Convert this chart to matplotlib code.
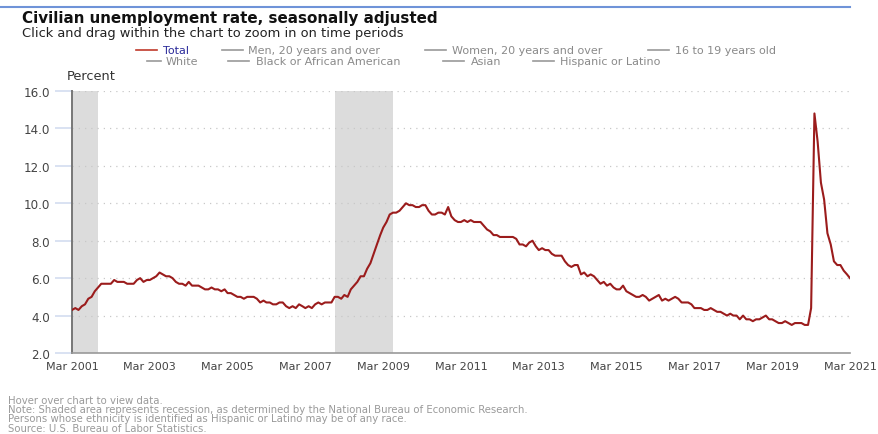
import numpy as np
import pandas as pd
import matplotlib
matplotlib.use("Agg")
import matplotlib.pyplot as plt
from matplotlib.lines import Line2D

# monthly civilian unemployment rate, Mar 2001 - Mar 2021
start = "2001-03-01"
rate = [
    4.3, 4.4, 4.3, 4.5, 4.6, 4.9, 5.0, 5.3, 5.5, 5.7,
    5.7, 5.7, 5.7, 5.9, 5.8, 5.8, 5.8, 5.7, 5.7, 5.7, 5.9, 6.0,
    5.8, 5.9, 5.9, 6.0, 6.1, 6.3, 6.2, 6.1, 6.1, 6.0, 5.8, 5.7,
    5.7, 5.6, 5.8, 5.6, 5.6, 5.6, 5.5, 5.4, 5.4, 5.5, 5.4, 5.4,
    5.3, 5.4, 5.2, 5.2, 5.1, 5.0, 5.0, 4.9, 5.0, 5.0, 5.0, 4.9,
    4.7, 4.8, 4.7, 4.7, 4.6, 4.6, 4.7, 4.7, 4.5, 4.4, 4.5, 4.4,
    4.6, 4.5, 4.4, 4.5, 4.4, 4.6, 4.7, 4.6, 4.7, 4.7, 4.7, 5.0,
    5.0, 4.9, 5.1, 5.0, 5.4, 5.6, 5.8, 6.1, 6.1, 6.5, 6.8, 7.3,
    7.8, 8.3, 8.7, 9.0, 9.4, 9.5, 9.5, 9.6, 9.8, 10.0, 9.9, 9.9,
    9.8, 9.8, 9.9, 9.9, 9.6, 9.4, 9.4, 9.5, 9.5, 9.4, 9.8, 9.3,
    9.1, 9.0, 9.0, 9.1, 9.0, 9.1, 9.0, 9.0, 9.0, 8.8, 8.6, 8.5,
    8.3, 8.3, 8.2, 8.2, 8.2, 8.2, 8.2, 8.1, 7.8, 7.8, 7.7, 7.9,
    8.0, 7.7, 7.5, 7.6, 7.5, 7.5, 7.3, 7.2, 7.2, 7.2, 6.9, 6.7,
    6.6, 6.7, 6.7, 6.2, 6.3, 6.1, 6.2, 6.1, 5.9, 5.7, 5.8, 5.6,
    5.7, 5.5, 5.4, 5.4, 5.6, 5.3, 5.2, 5.1, 5.0, 5.0, 5.1, 5.0,
    4.8, 4.9, 5.0, 5.1, 4.8, 4.9, 4.8, 4.9, 5.0, 4.9, 4.7, 4.7,
    4.7, 4.6, 4.4, 4.4, 4.4, 4.3, 4.3, 4.4, 4.3, 4.2, 4.2, 4.1,
    4.0, 4.1, 4.0, 4.0, 3.8, 4.0, 3.8, 3.8, 3.7, 3.8, 3.8, 3.9,
    4.0, 3.8, 3.8, 3.7, 3.6, 3.6, 3.7, 3.6, 3.5, 3.6, 3.6, 3.6,
    3.5, 3.5, 4.4, 14.8, 13.3, 11.1, 10.2, 8.4, 7.8, 6.9, 6.7, 6.7,
    6.4, 6.2, 6.0,
]
months = pd.date_range(start, periods=len(rate), freq="MS")

recessions = [("2001-03-01", "2001-11-01"), ("2007-12-01", "2009-06-01")]

yticks = [2.0, 4.0, 6.0, 8.0, 10.0, 12.0, 14.0, 16.0]
xtick_years = list(range(2001, 2022, 2))

legend_row1 = ["Total", "Men, 20 years and over", "Women, 20 years and over", "16 to 19 years old"]
legend_row2 = ["White", "Black or African American", "Asian", "Hispanic or Latino"]

footnotes = [
    "Hover over chart to view data.",
    "Note: Shaded area represents recession, as determined by the National Bureau of Economic Research.",
    "Persons whose ethnicity is identified as Hispanic or Latino may be of any race.",
    "Source: U.S. Bureau of Labor Statistics.",
]

W, H = 879, 435
fig = plt.figure(figsize=(W / 100, H / 100), dpi=100)
fig.patch.set_facecolor("white")

def fx(px):
    return px / W

def fy(py):
    return 1 - py / H

ax = fig.add_axes([fx(72), fy(354), fx(850) - fx(72), fy(92) - fy(354)])

for a, b in recessions:
    ax.axvspan(pd.Timestamp(a), pd.Timestamp(b), color="#dcdcdc", lw=0, zorder=0)

ax.plot(months, rate, color="#9b1c1c", lw=1.5, zorder=3)

ax.set_ylim(2, 16)
ax.set_xlim(months[0], months[-1])
ax.set_yticks(yticks)
ax.set_yticklabels([f"{v:.1f}" for v in yticks])
ax.set_xticks([pd.Timestamp(f"{y}-03-01") for y in xtick_years])
ax.set_xticklabels([f"Mar {y}" for y in xtick_years])

for v in yticks[1:]:
    ax.axhline(v, color="#c8c8c8", lw=0.9, ls=(0, (1, 4)), zorder=1)

for s in ["top", "right"]:
    ax.spines[s].set_visible(False)
ax.spines["left"].set_color("#777777")
ax.spines["left"].set_linewidth(1.4)
ax.spines["bottom"].set_color("#999999")
ax.spines["bottom"].set_linewidth(1.2)

ax.tick_params(axis="y", length=12, width=1.2, color="#d3ddf0", labelsize=8.6,
               labelcolor="#444444", pad=4)
ax.tick_params(axis="x", length=0, labelsize=8, labelcolor="#444444", pad=6)

# header
fig.add_artist(Line2D([0, fx(850)], [fy(8), fy(8)], color="#6f93d8", lw=1.5))
fig.text(fx(22), fy(19), "Civilian unemployment rate, seasonally adjusted",
         fontsize=10.9, fontweight="bold", color="#111111", va="center")
fig.text(fx(22), fy(34), "Click and drag within the chart to zoom in on time periods",
         fontsize=9.4, color="#222222", va="center")

# legend
row1_line = [136, 222, 425, 648]
row1_text = [163, 248, 452, 675]
row2_line = [147, 228, 443, 533]
row2_text = [166, 256, 471, 560]
for labels, lx, tx, ypx in [(legend_row1, row1_line, row1_text, 50.5),
                            (legend_row2, row2_line, row2_text, 62)]:
    for lab, x0, x1 in zip(labels, lx, tx):
        is_total = lab == "Total"
        x_end = min(x0 + 21, x1 - 5)
        fig.add_artist(Line2D([fx(x0), fx(x_end)], [fy(ypx), fy(ypx)],
                              color="#c0392b" if is_total else "#999999", lw=1.2))
        fig.text(fx(x1), fy(ypx), lab, fontsize=8.0, va="center",
                 color="#2a2a9a" if is_total else "#8a8a8a")

fig.text(fx(67), fy(77), "Percent", fontsize=9.3, color="#333333", va="center")

for i, line in enumerate(footnotes):
    fig.text(fx(8), fy(401 + i * 9.2), line, fontsize=7.3, color="#9a9a9a", va="center")

fig.savefig("out.png", dpi=100)
